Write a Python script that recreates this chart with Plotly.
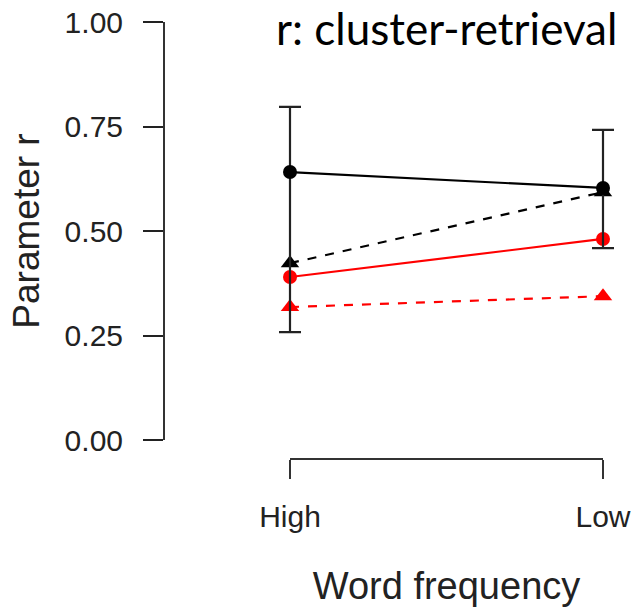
import plotly.graph_objects as go

categories = ["High", "Low"]
x_pos = [0, 1]

black_circle = [0.641, 0.603]
black_triangle = [0.423, 0.593]
red_circle = [0.390, 0.481]
red_triangle = [0.318, 0.344]

err_upper = [0.797, 0.742]
err_lower = [0.258, 0.459]

y_ticks = [0.0, 0.25, 0.5, 0.75, 1.0]
y_ticktext = ["0.00", "0.25", "0.50", "0.75", "1.00"]

W, H = 637, 613
# pixel layout
y_top_px, y_bot_px = 22, 440
yaxis_x_px = 165
high_px, low_px = 290, 603
xaxis_y_px = 458

unit = low_px - high_px
x_range = [-(high_px - yaxis_x_px) / unit, 1 + (W - low_px) / unit]

fig = go.Figure()

def add(y, color, symbol, dash, size, err=None):
    kw = {}
    if err is not None:
        kw["error_y"] = dict(type="data", symmetric=False,
                             array=[u - v for u, v in zip(err[0], y)],
                             arrayminus=[v - l for v, l in zip(y, err[1])],
                             color="#222222", thickness=2.2, width=11)
    fig.add_trace(go.Scatter(x=x_pos, y=y, mode="lines+markers",
                             line=dict(color=color, width=2.2, dash=dash),
                             marker=dict(color=color, symbol=symbol, size=size),
                             showlegend=False, cliponaxis=False, **kw))

add(red_triangle, "#ff0000", "triangle-up", "dash", 16)
add(red_circle, "#ff0000", "circle", "solid", 14)
add(black_triangle, "#000000", "triangle-up", "dash", 16)
add(black_circle, "#000000", "circle", "solid", 14, err=(err_upper, err_lower))

# dummy trace to create the display x-axis subplot
fig.add_trace(go.Scatter(x=[None], y=[None], xaxis="x2", yaxis="y2",
                         showlegend=False, hoverinfo="skip"))

font = "Liberation Sans, Arial, sans-serif"
fig.update_layout(
    width=W, height=H,
    margin=dict(l=0, r=0, t=0, b=0, autoexpand=False),
    paper_bgcolor="white", plot_bgcolor="white",
    xaxis=dict(domain=[yaxis_x_px / W, 1], range=x_range, visible=False,
               showgrid=False, zeroline=False, automargin=False),
    yaxis=dict(domain=[1 - y_bot_px / H, 1 - y_top_px / H], range=[0, 1],
               automargin=False,
               tickvals=y_ticks, ticktext=y_ticktext,
               showline=True, linecolor="#333333", linewidth=2,
               ticks="outside", ticklen=20, tickwidth=2, tickcolor="#222222",
               ticklabelstandoff=14,
               showgrid=False, zeroline=False,
               tickfont=dict(family=font, size=30, color="#222222"),
               title=dict(text="Parameter r", standoff=14,
                          font=dict(family=font, size=37, color="#222222"))),
    xaxis2=dict(domain=[high_px / W, low_px / W], range=[0, 1], anchor="y2",
                automargin=False,
                tickvals=x_pos, ticktext=categories,
                showline=True, linecolor="#333333", linewidth=2,
                ticks="outside", ticklen=19, tickwidth=2, tickcolor="#333333",
                ticklabelstandoff=12,
                showgrid=False, zeroline=False,
                tickfont=dict(family=font, size=30, color="#222222"),
                title=dict(text="Word frequency", standoff=40,
                           font=dict(family=font, size=38, color="#222222"))),
    yaxis2=dict(domain=[1 - xaxis_y_px / H, 1 - (xaxis_y_px - 5) / H],
                visible=False, range=[0, 1], automargin=False),
    annotations=[dict(text="r: cluster-retrieval", x=446 / W, y=1 - 28 / H,
                      xref="paper", yref="paper", showarrow=False,
                      xanchor="center", yanchor="middle",
                      font=dict(family="Lato, sans-serif", size=44, color="#000000"))],
)

fig.write_html("out.html")
